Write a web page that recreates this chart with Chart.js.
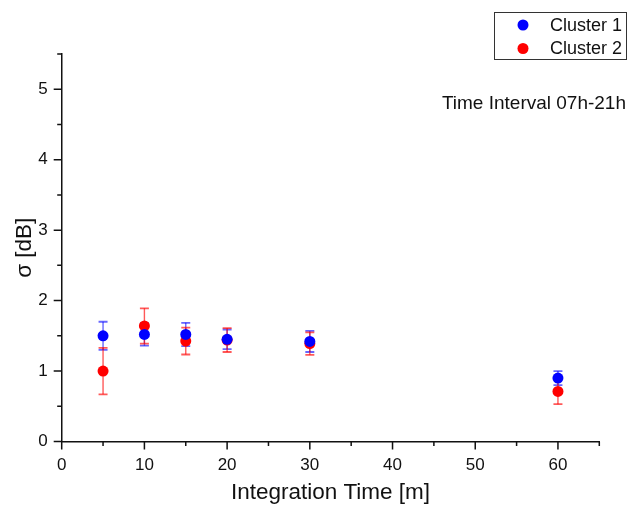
<!DOCTYPE html>
<html>
<head>
<meta charset="utf-8">
<script src="https://cdn.jsdelivr.net/npm/chart.js@4"></script>
<style>
  body { margin: 0; background: #fff; }
  canvas { display: block; }
</style>
</head>
<body>
<canvas id="chart" width="635" height="507"></canvas>
<script>
// data
const integrationTimes = [5, 10, 15, 20, 30, 60];
const cluster1Sigma = [1.50, 1.52, 1.52, 1.45, 1.42, 0.90];
const cluster1Err = [0.20, 0.16, 0.165, 0.14, 0.15, 0.10];
const cluster2Sigma = [1.00, 1.64, 1.425, 1.44, 1.39, 0.71];
const cluster2Err = [0.33, 0.25, 0.19, 0.17, 0.16, 0.18];
const seriesNames = ['Cluster 1', 'Cluster 2'];
const noteText = 'Time Interval 07h-21h';

Chart.defaults.font.family = '"Liberation Sans", Arial, sans-serif';
const axisColor = '#111';

function toPoints(ys) {
    return integrationTimes.map((x, i) => ({ x: x, y: ys[i] }));
}

// error bars, drawn under the points
const errorBars = {
    id: 'errorBars',
    beforeDatasetsDraw(chart) {
        const ctx = chart.ctx;
        const xs = chart.scales.x, ys = chart.scales.y;
        const sets = [
            { vals: cluster1Sigma, errs: cluster1Err, color: 'rgba(0,0,255,0.6)' },
            { vals: cluster2Sigma, errs: cluster2Err, color: 'rgba(255,0,0,0.65)' }
        ];
        ctx.save();
        sets.forEach(s => {
            ctx.strokeStyle = s.color;
            integrationTimes.forEach((t, i) => {
                const px = xs.getPixelForValue(t);
                const top = ys.getPixelForValue(s.vals[i] + s.errs[i]);
                const bot = ys.getPixelForValue(s.vals[i] - s.errs[i]);
                ctx.lineWidth = 1.4;
                ctx.beginPath();
                ctx.moveTo(px, top);
                ctx.lineTo(px, bot);
                ctx.stroke();
                ctx.lineWidth = 1.8;
                ctx.beginPath();
                ctx.moveTo(px - 4.5, top);
                ctx.lineTo(px + 4.5, top);
                ctx.moveTo(px - 4.5, bot);
                ctx.lineTo(px + 4.5, bot);
                ctx.stroke();
            });
        });
        ctx.restore();
    }
};

// outward major / minor tick marks, legend box and note
const decorations = {
    id: 'decorations',
    afterDraw(chart) {
        const ctx = chart.ctx;
        const xs = chart.scales.x, ys = chart.scales.y;
        const area = chart.chartArea;
        ctx.save();
        ctx.strokeStyle = axisColor;
        ctx.lineWidth = 1.5;
        ctx.beginPath();
        xs.ticks.forEach(t => {
            const px = xs.getPixelForValue(t.value);
            const len = t.value % 10 === 0 ? 8 : 4.5;
            ctx.moveTo(px, area.bottom);
            ctx.lineTo(px, area.bottom + len);
        });
        ys.ticks.forEach(t => {
            const py = ys.getPixelForValue(t.value);
            const len = Number.isInteger(t.value) ? 8 : 4.5;
            ctx.moveTo(area.left, py);
            ctx.lineTo(area.left - len, py);
        });
        ctx.stroke();

        // legend
        ctx.lineWidth = 1;
        ctx.strokeStyle = '#333';
        ctx.strokeRect(494.5, 12.5, 132, 47);
        const colors = chart.data.datasets.map(d => d.backgroundColor);
        ctx.font = '18px "Liberation Sans", Arial, sans-serif';
        ctx.textBaseline = 'middle';
        ctx.textAlign = 'left';
        seriesNames.forEach((name, i) => {
            const cy = 25 + i * 23.5;
            ctx.fillStyle = colors[i];
            ctx.beginPath();
            ctx.arc(523, cy, 5.5, 0, Math.PI * 2);
            ctx.fill();
            ctx.fillStyle = '#111';
            ctx.fillText(name, 550, cy + 1);
        });

        ctx.font = '19px "Liberation Sans", Arial, sans-serif';
        ctx.textAlign = 'right';
        ctx.textBaseline = 'alphabetic';
        ctx.fillText(noteText, 626, 109);
        ctx.restore();
    }
};

new Chart(document.getElementById('chart'), {
    type: 'scatter',
    data: {
        datasets: [
            {
                label: seriesNames[0],
                data: toPoints(cluster1Sigma),
                backgroundColor: '#0000ff',
                borderWidth: 0,
                pointRadius: 5.5
            },
            {
                label: seriesNames[1],
                data: toPoints(cluster2Sigma),
                backgroundColor: '#ff0000',
                borderWidth: 0,
                pointRadius: 5.5
            }
        ]
    },
    options: {
        responsive: false,
        animation: false,
        devicePixelRatio: 1,
        layout: { padding: { left: 0, right: 35.7, top: 54, bottom: 0 } },
        plugins: {
            legend: { display: false },
            tooltip: { enabled: false }
        },
        scales: {
            x: {
                type: 'linear',
                min: 0,
                max: 65,
                ticks: {
                    stepSize: 5,
                    autoSkip: false,
                    maxRotation: 0,
                    padding: 14,
                    color: axisColor,
                    font: { size: 17 },
                    callback: v => (v % 10 === 0 ? v : '')
                },
                grid: { display: false, drawTicks: false },
                border: { display: true, color: axisColor, width: 1.5 },
                title: {
                    display: true,
                    text: 'Integration Time [m]',
                    color: axisColor,
                    font: { size: 22.5 },
                    padding: { top: 0, bottom: 1 }
                },
                afterFit: s => { s.height = 65.5; }
            },
            y: {
                type: 'linear',
                min: 0,
                max: 5.5,
                ticks: {
                    stepSize: 0.5,
                    autoSkip: false,
                    padding: 14,
                    color: axisColor,
                    font: { size: 17 },
                    callback: v => (Number.isInteger(v) ? v : '')
                },
                grid: { display: false, drawTicks: false },
                border: { display: true, color: axisColor, width: 1.5 },
                title: {
                    display: true,
                    text: 'σ [dB]',
                    color: axisColor,
                    font: { size: 22.5 },
                    padding: { top: 11, bottom: 0 }
                },
                afterFit: s => { s.width = 61.7; }
            }
        }
    },
    plugins: [errorBars, decorations]
});
</script>
</body>
</html>
